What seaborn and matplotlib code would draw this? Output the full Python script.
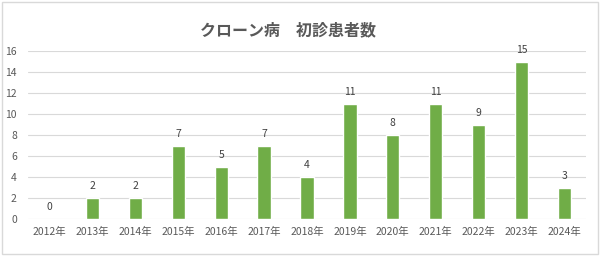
import matplotlib
matplotlib.use("Agg")
import matplotlib.pyplot as plt
import seaborn as sns
import pandas as pd
from matplotlib.patches import Rectangle

years = ["2012年", "2013年", "2014年", "2015年", "2016年", "2017年", "2018年",
         "2019年", "2020年", "2021年", "2022年", "2023年", "2024年"]
counts = [0, 2, 2, 7, 5, 7, 4, 11, 8, 11, 9, 15, 3]
title = "クローン病　初診患者数"

sns.set_theme(style="white")
plt.rcParams['font.family'] = ['Noto Sans CJK JP', 'DejaVu Sans']

df = pd.DataFrame({"year": years, "count": counts})

fig = plt.figure(figsize=(6, 2.56), dpi=100)
ax = fig.add_axes([28/600, 37/256, 558/600, 168/256])

sns.barplot(data=df, x="year", y="count", color="#70AD47", width=0.31,
            saturation=1, ax=ax)

ax.set_ylim(0, 16)
ax.set_yticks(range(0, 17, 2))
ax.set_xlim(-0.5, len(years) - 0.5)
ax.grid(axis="y", color="#D9D9D9", linewidth=0.8)
ax.set_axisbelow(True)
for s in ax.spines.values():
    s.set_visible(False)
ax.set_xlabel("")
ax.set_ylabel("")
ax.tick_params(axis="both", length=0, colors="#595959", labelsize=7.5)
ax.tick_params(axis="y", pad=8)
ax.tick_params(axis="x", pad=6)

for i, v in enumerate(counts):
    ax.annotate(str(v), (i, v), xytext=(0, 5), textcoords="offset points",
                ha="center", va="bottom", fontsize=7.5, color="#404040")

fig.text(288/600, 1 - 30/256, title, ha="center", va="center",
         fontsize=11.5, fontweight="bold", color="#595959")

fig.patches.append(Rectangle((0.003, 0.006), 0.994, 0.988, transform=fig.transFigure,
                             fill=False, edgecolor="#D9D9D9", linewidth=1))

fig.savefig("out.png", dpi=100, facecolor="white")
